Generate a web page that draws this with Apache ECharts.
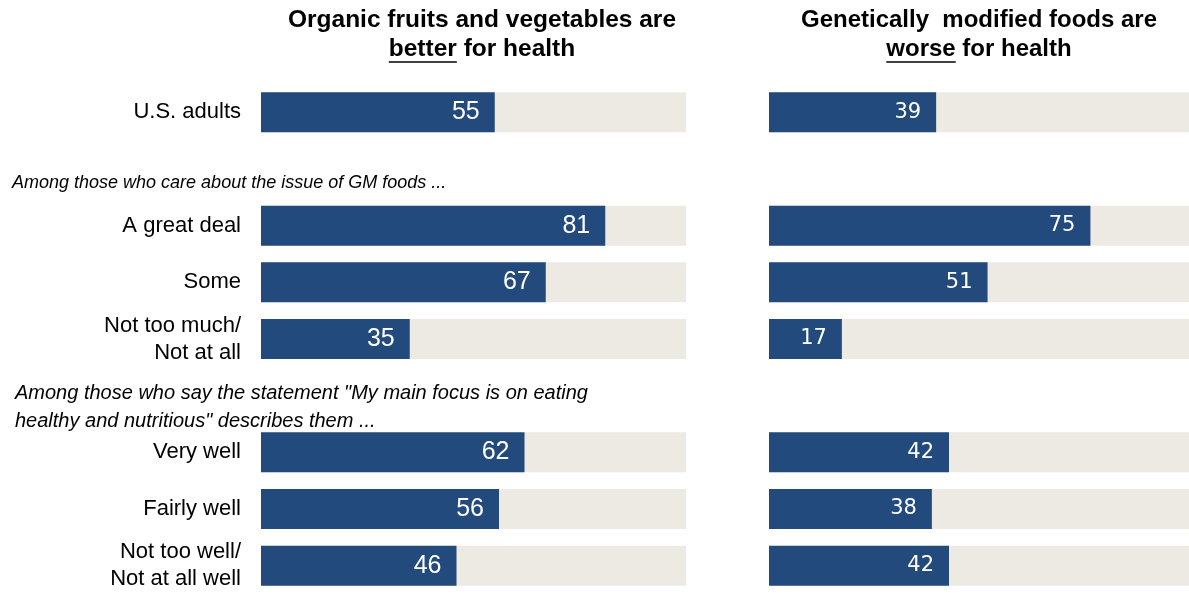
<!DOCTYPE html>
<html>
<head>
<meta charset="utf-8">
<script src="https://cdn.jsdelivr.net/npm/echarts@6/dist/echarts.min.js"></script>
<style>
html,body{margin:0;padding:0;background:#fff;}
#chart{width:1189px;height:594px;}
</style>
</head>
<body>
<div id="chart"></div>
<script>
// ---- data ----
const categories = ['U.S. adults', '', 'A great deal', 'Some', 'Not too much/\nNot at all', '', 'Very well', 'Fairly well', 'Not too well/\nNot at all well'];
const organicBetter = [55, null, 81, 67, 35, null, 62, 56, 46];
const gmWorse = [39, null, 75, 51, 17, null, 42, 38, 42];
const fullScale = [100, null, 100, 100, 100, null, 100, 100, 100];
const leftTitle = ['Organic fruits and vegetables are', 'better', ' for health'];
const rightTitle = ['Genetically  modified foods are', 'worse', ' for health'];
const sectionNotes = [
  'Among those who care about the issue of GM foods ...',
  'Among those who say the statement "My main focus is on eating',
  'healthy and nutritious" describes them ...'
];

// ---- style ----
const BLUE = '#224A7C';
const GREY = '#EDEAE4';
const SANS = '"Liberation Sans", Arial, sans-serif';

const chart = echarts.init(document.getElementById('chart'), null, {renderer: 'canvas'});

const cv = document.createElement('canvas').getContext('2d');
function tw(text, font) { cv.font = font; return cv.measureText(text).width; }

function titleGraphics(lines, cx, fontFamily, fontSize) {
  const font = 'bold ' + fontSize + 'px ' + fontFamily;
  const line2 = lines[1] + lines[2];
  const w2 = tw(line2, font);
  const wU = tw(lines[1], font);
  const x0 = cx - w2 / 2;
  return [
    {type: 'text', x: cx, y: 20, style: {text: lines[0], font: font, fill: '#000', align: 'center', verticalAlign: 'middle'}},
    {type: 'text', x: cx, y: 49, style: {text: line2, font: font, fill: '#000', align: 'center', verticalAlign: 'middle'}},
    {type: 'line', shape: {x1: x0, y1: 62, x2: x0 + wU, y2: 62}, style: {stroke: '#000', lineWidth: 1.5}}
  ];
}

const gridTop = 84, gridH = 517;

function barSeries(idx, data, fontFamily, fontSize) {
  return [
    {
      type: 'bar', xAxisIndex: idx, yAxisIndex: idx, data: fullScale,
      barWidth: 40, barGap: '-100%', silent: true, clip: true,
      itemStyle: {color: GREY}, z: 1, animation: false
    },
    {
      type: 'bar', xAxisIndex: idx, yAxisIndex: idx, data: data,
      barWidth: 40, barGap: '-100%', z: 2, animation: false,
      itemStyle: {color: BLUE},
      label: {
        show: true, position: 'insideRight', distance: 15,
        color: '#fff', fontFamily: fontFamily, fontSize: fontSize
      }
    }
  ];
}

const option = {
  animation: false,
  backgroundColor: '#fff',
  grid: [
    {left: 261, top: gridTop, width: 425, height: gridH},
    {left: 769, top: gridTop, width: 420, height: gridH}
  ],
  xAxis: [
    {type: 'value', gridIndex: 0, min: 0, max: 100, show: false},
    {type: 'value', gridIndex: 1, min: 0, max: 98, show: false}
  ],
  yAxis: [0, 1].map(i => ({
    type: 'category', gridIndex: i, data: categories, inverse: true,
    axisLine: {show: false}, axisTick: {show: false}, splitLine: {show: false},
    axisLabel: i === 0 ? {
      show: true, margin: 20, color: '#000', fontFamily: SANS, fontSize: 22,
      lineHeight: 27, align: 'right'
    } : {show: false}
  })),
  series: [
    ...barSeries(0, organicBetter, SANS, 25),
    ...barSeries(1, gmWorse, '"DejaVu Sans", Verdana, sans-serif', 21)
  ],
  graphic: [
    ...titleGraphics(leftTitle, 482, SANS, 24.5),
    ...titleGraphics(rightTitle, 979, SANS, 24),
    {type: 'text', x: 12, y: 183, style: {text: sectionNotes[0], font: 'italic 18px ' + SANS, fill: '#000', verticalAlign: 'middle'}},
    {type: 'text', x: 15, y: 393, style: {text: sectionNotes[1], font: 'italic 20px ' + SANS, fill: '#000', verticalAlign: 'middle'}},
    {type: 'text', x: 15, y: 421, style: {text: sectionNotes[2], font: 'italic 20px ' + SANS, fill: '#000', verticalAlign: 'middle'}}
  ]
};
chart.setOption(option);
</script>
</body>
</html>
